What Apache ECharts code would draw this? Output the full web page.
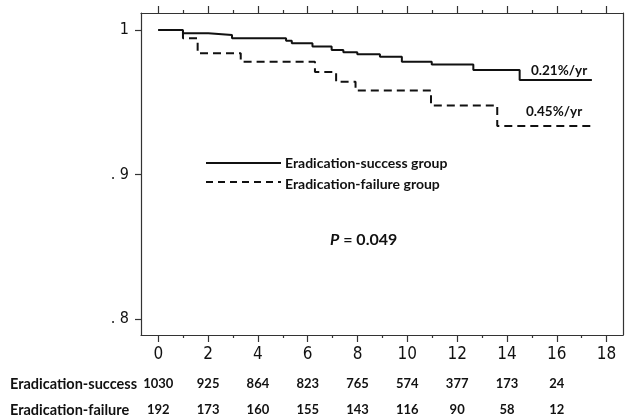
<!DOCTYPE html>
<html>
<head>
<meta charset="utf-8">
<script src="https://cdn.jsdelivr.net/npm/echarts@6/dist/echarts.min.js"></script>
<style>
html,body{margin:0;padding:0;background:#fff;}
#chart{width:625px;height:419px;}
</style>
</head>
<body>
<div id="chart"></div>
<script>
// Kaplan-Meier step points [years, survival]
var successCurve = [[0,1],[0.99,0.99772],[2.01,0.99654],[2.96,0.99426],[5.13,0.99260],[5.36,0.99080],[6.19,0.98858],[6.96,0.98616],[7.43,0.98457],[7.99,0.98318],[8.90,0.98152],[9.78,0.97806],[10.98,0.97612],[12.65,0.97232],[14.51,0.96540],[17.41,0.96540]];
var failureCurve = [[0,1],[0.99,0.99426],[1.58,0.98388],[3.31,0.97806],[6.29,0.97093],[7.14,0.96422],[7.92,0.95813],[10.95,0.94775],[13.61,0.93356],[17.38,0.93356]];
var seriesNames = ['Eradication-success group','Eradication-failure group'];
var rowNames = ['Eradication-success','Eradication-failure'];
var riskTimes = [0,2,4,6,8,10,12,14,16];
var successRisk = [1030,925,864,823,765,574,377,173,24];
var failureRisk = [192,173,160,155,143,116,90,58,12];
var xMajorTicks = [0,2,4,6,8,10,12,14,16,18];
var xMinorTicks = [1,3,5,7,9,11,13,15,17];
var yTicks = [0.8,0.9,1];
var yTickLabels = ['. 8','. 9','1'];
var rateLabels = ['0.21%/yr','0.45%/yr'];
var pLabel = ['P',' = 0.049'];

var XMIN = -0.695, XMAX = 18.66, YMIN = 0.78893, YMAX = 1.01176;
var axisColor = '#333';
var tickFont = "'Liberation Sans Narrow','DejaVu Sans Condensed','Roboto Condensed',sans-serif";
var boldFont = "Lato,'Open Sans',sans-serif";

function xAx(pos, ticks, len, showLine, showLabel) {
  return {
    type: 'value', min: XMIN, max: XMAX, position: pos,
    axisLine: {show: showLine, onZero: false, lineStyle: {color: axisColor, width: 1.2}},
    axisTick: {show: true, inside: false, length: len, customValues: ticks, lineStyle: {color: axisColor, width: 1.2}},
    axisLabel: showLabel ? {show: true, customValues: ticks, margin: 11, fontSize: 17, color: '#111', fontFamily: tickFont} : {show: false},
    splitLine: {show: false}
  };
}

var chart = echarts.init(document.getElementById('chart'));
chart.setOption({
  animation: false,
  backgroundColor: '#fff',
  grid: {left: 141, top: 13, right: 2, bottom: 84, containLabel: false},
  xAxis: [
    xAx('bottom', xMajorTicks, 7, true, true),
    xAx('bottom', xMinorTicks, 3, false, false),
    xAx('top', xMajorTicks, 7, true, false),
    xAx('top', xMinorTicks, 3, false, false)
  ],
  yAxis: [
    {
      type: 'value', min: YMIN, max: YMAX, position: 'left',
      axisLine: {show: true, onZero: false, lineStyle: {color: axisColor, width: 1.2}},
      axisTick: {show: true, inside: false, length: 6, customValues: yTicks, lineStyle: {color: axisColor, width: 1.2}},
      axisLabel: {show: true, customValues: yTicks, margin: 12, fontSize: 16, color: '#111', fontFamily: tickFont,
        formatter: function (v) { var i = yTicks.findIndex(function (t) { return Math.abs(t - v) < 1e-6; }); return i >= 0 ? yTickLabels[i] : ''; }},
      splitLine: {show: false}
    },
    {
      type: 'value', min: YMIN, max: YMAX, position: 'right',
      axisLine: {show: true, onZero: false, lineStyle: {color: axisColor, width: 1.2}},
      axisTick: {show: false}, axisLabel: {show: false}, splitLine: {show: false}
    }
  ],
  series: [
    {name: seriesNames[0], type: 'line', step: 'end', data: successCurve, symbol: 'none',
      lineStyle: {color: '#111', width: 2}},
    {name: seriesNames[1], type: 'line', step: 'end', data: failureCurve, symbol: 'none',
      lineStyle: {color: '#111', width: 2, type: [8, 5]}}
  ]
});

var g = [];
// legend
g.push({type: 'line', shape: {x1: 206, y1: 163, x2: 281, y2: 163}, style: {stroke: '#111', lineWidth: 2}});
g.push({type: 'line', shape: {x1: 206, y1: 182, x2: 281, y2: 182}, style: {stroke: '#111', lineWidth: 2, lineDash: [7, 5]}});
g.push({type: 'text', x: 285, y: 163, style: {text: seriesNames[0], font: 'bold 14px ' + boldFont, fill: '#111', textVerticalAlign: 'middle'}});
g.push({type: 'text', x: 285, y: 184, style: {text: seriesNames[1], font: 'bold 14px ' + boldFont, fill: '#111', textVerticalAlign: 'middle'}});
// rates
g.push({type: 'text', x: 531, y: 71, style: {text: rateLabels[0], font: 'bold 13.5px ' + boldFont, fill: '#111', textVerticalAlign: 'middle'}});
g.push({type: 'text', x: 526, y: 112, style: {text: rateLabels[1], font: 'bold 13.5px ' + boldFont, fill: '#111', textVerticalAlign: 'middle'}});
// P value
g.push({type: 'text', x: 330, y: 240, style: {text: '{i|' + pLabel[0] + '}{b|' + pLabel[1] + '}', textVerticalAlign: 'middle',
  rich: {i: {font: 'italic bold 16px ' + boldFont, fill: '#111'}, b: {font: 'bold 16px ' + boldFont, fill: '#111'}}}});
// risk table
g.push({type: 'text', x: 10, y: 384, style: {text: rowNames[0], font: 'bold 14.5px ' + boldFont, fill: '#111', textVerticalAlign: 'middle'}});
g.push({type: 'text', x: 10, y: 410, style: {text: rowNames[1], font: 'bold 14.5px ' + boldFont, fill: '#111', textVerticalAlign: 'middle'}});
riskTimes.forEach(function (t, i) {
  var px = chart.convertToPixel({xAxisIndex: 0}, t);
  g.push({type: 'text', x: px, y: 384, style: {text: String(successRisk[i]), font: 'bold 13px ' + boldFont, fill: '#111', textAlign: 'center', textVerticalAlign: 'middle'}});
  g.push({type: 'text', x: px, y: 410, style: {text: String(failureRisk[i]), font: 'bold 13px ' + boldFont, fill: '#111', textAlign: 'center', textVerticalAlign: 'middle'}});
});
chart.setOption({graphic: g});
</script>
</body>
</html>
